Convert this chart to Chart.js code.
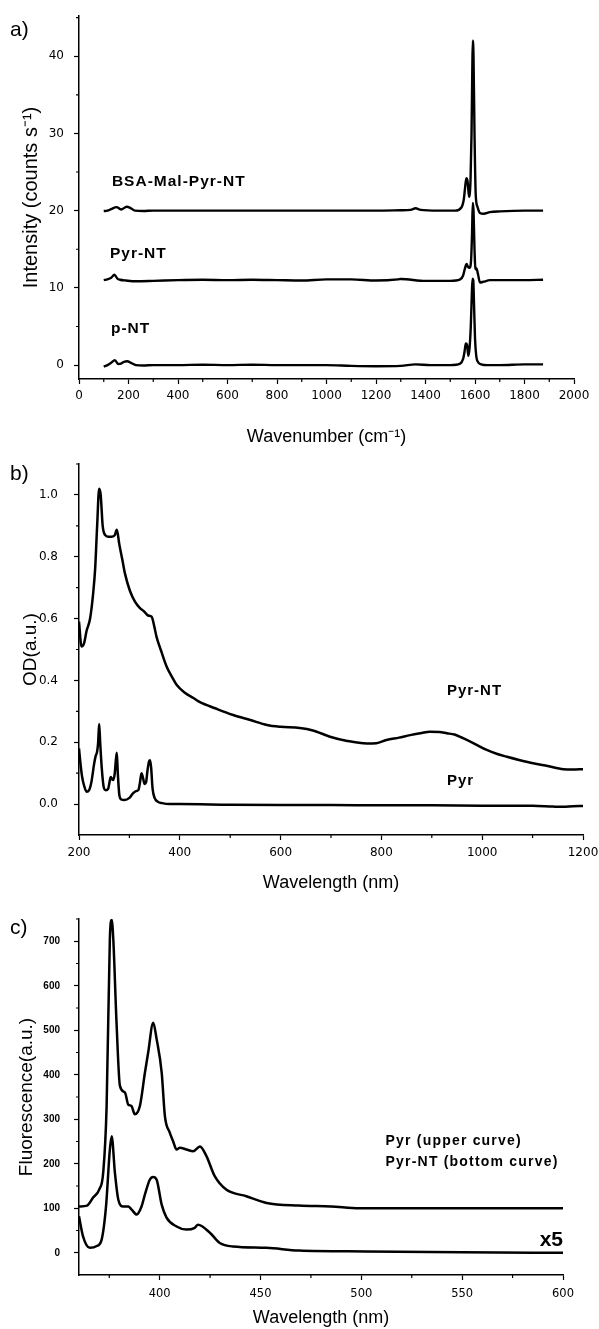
<!DOCTYPE html>
<html>
<head>
<meta charset="utf-8">
<script src="https://cdn.jsdelivr.net/npm/chart.js@4.4.0/dist/chart.umd.min.js"></script>
<style>
  body { margin: 0; background: #fff; width: 599px; height: 1329px; position: relative; overflow: hidden; }
  canvas { position: absolute; left: 0; }
</style>
</head>
<body>
<canvas id="chartA" width="599" height="450" style="top:0"></canvas>
<canvas id="chartB" width="599" height="445" style="top:450px"></canvas>
<canvas id="chartC" width="599" height="434" style="top:895px"></canvas>
<script>
// a) Raman
const ramanTicksX = [0, 200, 400, 600, 800, 1000, 1200, 1400, 1600, 1800, 2000];
const ramanTicksY = [0, 10, 20, 30, 40];
const pntX = [100,115,130,145,158,170,180,195,210,230,260,300,400,500,600,700,800,900,1000,1100,1200,1300,1360,1420,1500,1540,1552,1558,1563,1568,1573,1578,1583,1587,1590,1593,1596,1600,1605,1612,1625,1650,1700,1800,1875];
const pntY = [-0.2,0.0,0.3,0.65,0.15,0.2,0.4,0.5,0.3,0.0,-0.05,0.0,0.0,0.05,0.0,0.05,0.0,0.0,0.0,-0.1,-0.15,-0.1,0.1,0.0,0.0,0.2,0.8,1.8,2.8,2.6,1.2,2.2,5.0,9.0,11.2,11.0,8.0,3.5,1.2,0.4,0.1,0.0,0.0,0.1,0.1];
const pyrNtX = [100,115,130,143,155,166,190,230,300,400,500,600,700,800,900,1000,1100,1200,1290,1300,1400,1500,1540,1552,1560,1566,1572,1578,1584,1588,1591,1594,1598,1602,1606,1612,1620,1635,1660,1700,1800,1875];
const pyrNtY = [11.0,11.1,11.3,11.7,11.2,11.05,10.95,10.85,10.9,11.0,11.05,11.0,11.05,11.0,10.95,11.1,11.1,10.95,11.1,11.15,10.9,10.9,11.1,11.6,12.6,13.1,12.7,12.6,13.5,17.0,21.0,20.0,15.0,12.4,12.5,11.8,10.7,10.8,11.0,11.0,11.0,11.05];
const bsaX = [100,115,130,152,170,193,210,226,260,300,400,500,600,700,800,900,1000,1100,1200,1300,1340,1360,1380,1450,1520,1545,1555,1560,1565,1570,1576,1582,1586,1589,1591,1594,1598,1603,1610,1620,1635,1660,1700,1800,1875];
const bsaY = [19.95,20.0,20.2,20.45,20.15,20.5,20.3,20.0,19.95,20.0,20.0,20.0,20.0,20.0,20.0,20.0,20.0,20.0,20.0,20.05,20.1,20.3,20.1,20.0,20.0,20.4,21.5,23.0,24.2,23.8,21.8,24.0,30.0,38.0,42.0,40.0,30.0,22.0,20.5,19.7,19.6,19.8,19.9,20.0,20.0];

// b) absorption
const absTicksX = [200, 400, 600, 800, 1000, 1200];
const absTicksY = [0, 0.2, 0.4, 0.6, 0.8, 1.0];
const absNtX = [200,205,210,215,222,228,232,236,240,243,247,252,258,265,271,275,280,286,291,301,311,321,328,337,344,350,354,362,374,385,394,410,427,440,470,506,540,573,600,638,664,698,730,771,790,810,835,857,880,896,915,930,945,962,985,1009,1030,1049,1075,1101,1130,1161,1180,1200];
const absNtY = [0.59,0.51,0.52,0.56,0.60,0.68,0.76,0.90,1.02,1.00,0.90,0.87,0.865,0.865,0.87,0.887,0.84,0.79,0.747,0.69,0.655,0.634,0.625,0.61,0.606,0.57,0.54,0.50,0.444,0.41,0.385,0.36,0.343,0.33,0.31,0.288,0.272,0.256,0.25,0.246,0.238,0.218,0.205,0.196,0.197,0.207,0.215,0.223,0.23,0.234,0.233,0.229,0.225,0.213,0.195,0.175,0.162,0.153,0.142,0.132,0.123,0.113,0.112,0.113];
const absPyrX = [200,203,206,210,215,220,225,230,233,236,238,240,242,245,249,253,258,261,263,266,268,271,273,275,277,280,284,290,300,307,313,318,321,324,327,330,333,336,339,341,343,346,350,356,365,380,400,500,600,700,800,900,1000,1100,1140,1160,1180,1200];
const absPyrY = [0.18,0.13,0.09,0.06,0.04,0.045,0.075,0.13,0.155,0.17,0.2,0.259,0.2,0.12,0.055,0.045,0.05,0.075,0.088,0.08,0.078,0.1,0.14,0.166,0.1,0.03,0.015,0.013,0.02,0.035,0.042,0.046,0.07,0.1,0.085,0.065,0.07,0.11,0.138,0.142,0.12,0.05,0.02,0.008,0.003,0.0,0.0,-0.002,-0.003,-0.003,-0.004,-0.004,-0.005,-0.005,-0.008,-0.009,-0.007,-0.006];

// c) fluorescence
const flTicksX = [400, 450, 500, 550, 600];
const flTicksY = [0, 100, 200, 300, 400, 500, 600, 700];
const flPyrX = [360,364,367,370,372,373.7,375.3,376.2,377,378.6,380.3,382.8,384.4,386,387.7,390.2,392.7,394.3,396.8,398.5,401,402.6,405,406.7,408.4,410,413.3,416.6,420,423.2,427.3,433,443,453,469,485,499,520,550,600];
const flPyrY = [104,106,124,142,180,330,705,748,705,518,375,360,333,330,311,330,405,450,517,480,405,307,270,250,232,236,232,228,239,217,172,142,127,112,106,104,100,100,100,100];
const flNtX = [360,362,365.4,368.8,371.2,373.4,375.3,376.2,377.8,379.5,381.9,384.4,386.1,388.6,391,392.7,395.1,396.8,398.5,401,403.4,408.4,413.3,417.4,419,424.9,429.8,436.4,453,469,502,550,600];
const flNtY = [82,37,11,15,29,104,232,262,180,119,104,104,97,86,104,131,164,170,164,108,79,59,52,56,63,45,22,14,11,5,3,1,0];

const SANS = '"Liberation Sans", Arial, sans-serif';
const zip = (xs, ys) => xs.map((x, i) => ({ x: x, y: ys[i] }));

// minor ticks, curve labels, panel letter
const extras = {
    id: 'extras',
    afterDraw(chart, args, opts) {
        const { ctx, chartArea: area, scales: { x, y } } = chart;
        ctx.save();
        ctx.strokeStyle = '#000';
        ctx.lineWidth = 1.2;
        ctx.beginPath();
        (opts.xMinor || []).forEach(v => {
            const px = x.getPixelForValue(v);
            ctx.moveTo(px, area.bottom);
            ctx.lineTo(px, area.bottom + 3);
        });
        (opts.yMinor || []).forEach(v => {
            const py = y.getPixelForValue(v);
            ctx.moveTo(area.left, py);
            ctx.lineTo(area.left - 3, py);
        });
        ctx.stroke();
        ctx.fillStyle = '#000';
        ctx.textBaseline = 'middle';
        (opts.labels || []).forEach(l => {
            ctx.font = l.font;
            ctx.letterSpacing = l.spacing || '0px';
            ctx.textAlign = l.align || 'left';
            ctx.fillText(l.text, x.getPixelForValue(l.x), y.getPixelForValue(l.y));
        });
        ctx.letterSpacing = '0px';
        ctx.textAlign = 'left';
        ctx.font = '21px ' + SANS;
        ctx.fillText(opts.panel, 10, opts.panelY);
        ctx.restore();
    }
};

function makeChart(id, cfg) {
    const canvas = document.getElementById(id);
    return new Chart(canvas, {
        type: 'line',
        data: {
            datasets: cfg.series.map(s => ({
                data: s,
                borderColor: '#000',
                borderWidth: cfg.lineWidth,
                pointRadius: 0,
                fill: false,
                cubicInterpolationMode: 'monotone'
            }))
        },
        plugins: [extras],
        options: {
            responsive: false,
            animation: false,
            layout: { padding: { top: cfg.top, right: cfg.right, left: 0, bottom: 0 } },
            plugins: {
                legend: { display: false },
                tooltip: { enabled: false },
                extras: cfg.extras
            },
            scales: {
                x: {
                    type: 'linear',
                    min: cfg.xMin, max: cfg.xMax,
                    afterBuildTicks: s => { s.ticks = cfg.xTicks.map(v => ({ value: v })); },
                    afterFit: s => {
                        s.height = canvas.height - cfg.bottom;
                        s.paddingLeft = 0;
                        s.paddingRight = 0;
                    },
                    grid: { drawOnChartArea: false, tickLength: 5, tickColor: '#000', tickWidth: 1.2 },
                    border: { display: true, color: '#000', width: 1.5 },
                    ticks: { autoSkip: false, maxRotation: 0, color: '#000', padding: cfg.xPad, font: cfg.xFont, callback: v => String(v) },
                    title: { display: true, text: cfg.xTitle, color: '#000', font: { family: SANS, size: 18 }, padding: { top: 0, bottom: cfg.xTitlePad } }
                },
                y: {
                    min: cfg.yMin, max: cfg.yMax,
                    afterBuildTicks: s => { s.ticks = cfg.yTicks.map(v => ({ value: v })); },
                    afterFit: s => {
                        s.width = 79;
                        s.paddingTop = 0;
                        s.paddingBottom = 0;
                    },
                    grid: { drawOnChartArea: false, tickLength: 5, tickColor: '#000', tickWidth: 1.2 },
                    border: { display: true, color: '#000', width: 1.5 },
                    ticks: { autoSkip: false, color: '#000', padding: cfg.yPad, font: cfg.yFont, callback: cfg.yFormat || (v => String(v)) },
                    title: { display: true, text: cfg.yTitle, color: '#000', font: { family: SANS, size: cfg.yTitleSize }, padding: { top: cfg.yTitlePad, bottom: 0 } }
                }
            }
        }
    });
}

document.addEventListener('DOMContentLoaded', () => {
    const tickFont = { family: '"DejaVu Sans", sans-serif', size: 12 };
    const bold = '15.5px ' + SANS;

    makeChart('chartA', {
        series: [zip(pntX, pntY), zip(pyrNtX, pyrNtY), zip(bsaX, bsaY)],
        lineWidth: 2.4,
        top: 16, right: 25, bottom: 379,
        xMin: 0, xMax: 2000, xTicks: ramanTicksX,
        yMin: -1.8, yMax: 45.2, yTicks: ramanTicksY,
        xPad: 5, yPad: 10, xFont: tickFont, yFont: tickFont,
        xTitle: 'Wavenumber (cm\u207B\u00B9)', xTitlePad: 2,
        yTitle: 'Intensity (counts s\u207B\u00B9)', yTitleSize: 20, yTitlePad: 19,
        extras: {
            xMinor: [100, 300, 500, 700, 900, 1100, 1300, 1500, 1700, 1900],
            yMinor: [5, 15, 25, 35, 45],
            panel: 'a)', panelY: 30,
            labels: [
                { text: 'BSA-Mal-Pyr-NT', x: 133, y: 23.8, font: 'bold ' + bold, spacing: '1px' },
                { text: 'Pyr-NT', x: 125, y: 14.4, font: 'bold ' + bold, spacing: '1px' },
                { text: 'p-NT', x: 129, y: 4.7, font: 'bold ' + bold, spacing: '1px' }
            ]
        }
    });

    makeChart('chartB', {
        series: [zip(absNtX, absNtY), zip(absPyrX, absPyrY)],
        lineWidth: 2.5,
        top: 14, right: 16, bottom: 385,
        xMin: 200, xMax: 1200, xTicks: absTicksX,
        yMin: -0.1, yMax: 1.1, yTicks: absTicksY,
        xPad: 6, yPad: 16, xFont: tickFont, yFont: tickFont,
        yFormat: v => v.toFixed(1),
        xTitle: 'Wavelength (nm)', xTitlePad: 1,
        yTitle: 'OD(a.u.)', yTitleSize: 19, yTitlePad: 19.6,
        extras: {
            xMinor: [300, 500, 700, 900, 1100],
            yMinor: [0.1, 0.3, 0.5, 0.7, 0.9, 1.1],
            panel: 'b)', panelY: 24,
            labels: [
                { text: 'Pyr-NT', x: 930, y: 0.366, font: 'bold 15px ' + SANS, spacing: '1px' },
                { text: 'Pyr', x: 930, y: 0.074, font: 'bold 15px ' + SANS, spacing: '1px' }
            ]
        }
    });

    makeChart('chartC', {
        series: [zip(flPyrX, flPyrY), zip(flNtX, flNtY)],
        lineWidth: 2.5,
        top: 24, right: 36, bottom: 380,
        xMin: 360, xMax: 600, xTicks: flTicksX,
        yMin: -50, yMax: 750, yTicks: flTicksY,
        xPad: 7, yPad: 14,
        xFont: { family: '"DejaVu Sans", sans-serif', size: 11.5 },
        yFont: { family: SANS, size: 10, weight: 'bold' },
        xTitle: 'Wavelength (nm)', xTitlePad: 0,
        yTitle: 'Fluorescence(a.u.)', yTitleSize: 19, yTitlePad: 15.6,
        extras: {
            xMinor: [375, 425, 475, 525, 575],
            yMinor: [50, 150, 250, 350, 450, 550, 650, 750],
            panel: 'c)', panelY: 33,
            labels: [
                { text: 'Pyr (upper curve)', x: 512, y: 250, font: 'bold 14px ' + SANS, spacing: '1.2px' },
                { text: 'Pyr-NT (bottom curve)', x: 512, y: 202.5, font: 'bold 14px ' + SANS, spacing: '1.2px' },
                { text: 'x5', x: 600, y: 29, font: 'bold 21px ' + SANS, align: 'right' }
            ]
        }
    });
});
</script>
</body>
</html>
